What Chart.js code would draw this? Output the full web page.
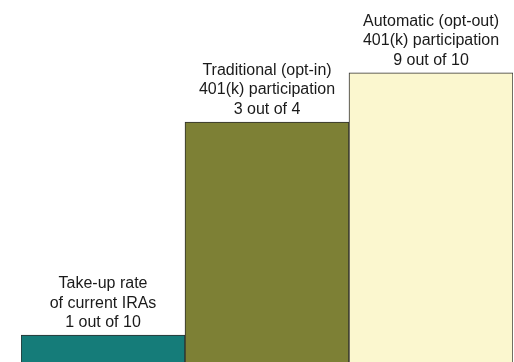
<!DOCTYPE html>
<html>
<head>
<meta charset="utf-8">
<script src="https://cdn.jsdelivr.net/npm/chart.js@4/dist/chart.umd.min.js"></script>
<style>
  html, body { margin: 0; padding: 0; background: #fff; overflow: hidden; }
  #wrap { width: 514px; height: 362px; position: relative; }
</style>
</head>
<body>
<div id="wrap"><canvas id="myChart"></canvas></div>
<script>
const categories = ['IRA', 'Traditional', 'Automatic'];
const rates = [10, 75, 90];
const barLabels = [
    ['Take-up rate', 'of current IRAs', '1 out of 10'],
    ['Traditional (opt-in)', '401(k) participation', '3 out of 4'],
    ['Automatic (opt-out)', '401(k) participation', '9 out of 10']
];
const barColors = ['#157c79', '#7d8035', '#fbf7cf'];

// text sitting on top of each bar
const topLabels = {
    id: 'topLabels',
    afterDatasetsDraw(chart) {
        const ctx = chart.ctx;
        const meta = chart.getDatasetMeta(0);
        ctx.save();
        ctx.fillStyle = '#1a1a1a';
        ctx.font = '16px "Liberation Sans", Arial, sans-serif';
        ctx.textAlign = 'center';
        ctx.textBaseline = 'alphabetic';
        meta.data.forEach((bar, i) => {
            const lines = barLabels[i];
            const lineH = 19.5;
            let y = bar.y - 8 - (lines.length - 1) * lineH;
            lines.forEach(line => {
                ctx.fillText(line, bar.x, y);
                y += lineH;
            });
        });
        ctx.restore();
    }
};

const ctx = document.getElementById('myChart').getContext('2d');
const chart = new Chart(ctx, {
    type: 'bar',
    data: {
        labels: categories,
        datasets: [{
            data: rates,
            backgroundColor: barColors,
            borderColor: '#2e2e2e',
            borderWidth: 1,
            barPercentage: 1,
            categoryPercentage: 1
        }]
    },
    options: {
        responsive: true,
        maintainAspectRatio: false,
        animation: false,
        layout: { padding: { left: 21, right: 1, top: 0, bottom: 0 } },
        scales: {
            x: { display: false },
            y: { display: false, min: 1.8, max: 112.2 }
        },
        plugins: {
            legend: { display: false },
            tooltip: { enabled: false }
        }
    },
    plugins: [topLabels]
});
</script>
</body>
</html>
